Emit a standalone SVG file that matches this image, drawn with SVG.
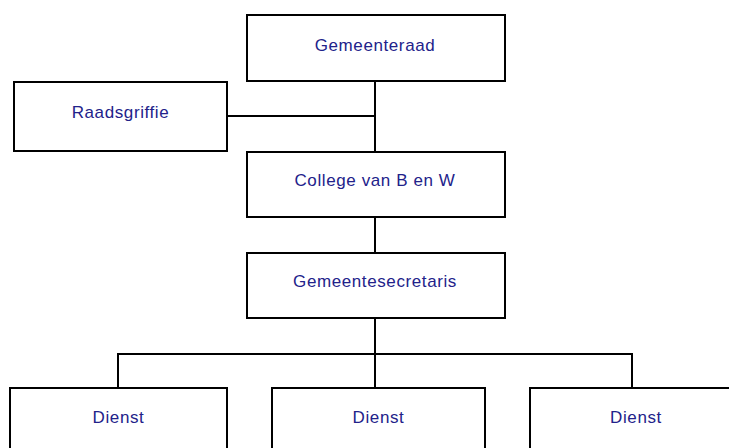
<svg xmlns="http://www.w3.org/2000/svg" width="729" height="448" viewBox="0 0 729 448">
<style>
.box{fill:#fff;stroke:#000;stroke-width:2}
.lbl{font-family:"Liberation Sans",Arial,sans-serif;font-size:17px;letter-spacing:0.6px;fill:#22228a;text-anchor:middle}
.con{fill:none;stroke:#000;stroke-width:2}
</style>
<rect width="729" height="448" fill="#fff"/>
<g id="connectors">
<line class="con" x1="375" y1="81" x2="375" y2="152"/>
<line class="con" x1="227" y1="116" x2="375" y2="116"/>
<line class="con" x1="375" y1="217" x2="375" y2="253"/>
<line class="con" x1="375" y1="318" x2="375" y2="388"/>
<polyline class="con" points="118,388 118,354 632,354 632,388"/>
</g>
<g id="gemeenteraad"><rect class="box" x="247" y="15" width="258" height="66"/><text class="lbl" x="375" y="51">Gemeenteraad</text></g>
<g id="raadsgriffie"><rect class="box" x="14" y="82" width="213" height="69"/><text class="lbl" x="120.5" y="118">Raadsgriffie</text></g>
<g id="college"><rect class="box" x="247" y="152" width="258" height="65"/><text class="lbl" x="375" y="186">College van B en W</text></g>
<g id="secretaris"><rect class="box" x="247" y="253" width="258" height="65"/><text class="lbl" x="375" y="287">Gemeentesecretaris</text></g>
<g id="dienst1"><rect class="box" x="10" y="388" width="217" height="80"/><text class="lbl" x="118.5" y="423">Dienst</text></g>
<g id="dienst2"><rect class="box" x="272" y="388" width="213" height="80"/><text class="lbl" x="378.5" y="423">Dienst</text></g>
<g id="dienst3"><rect class="box" x="530" y="388" width="213" height="80"/><text class="lbl" x="636" y="423">Dienst</text></g>
</svg>
